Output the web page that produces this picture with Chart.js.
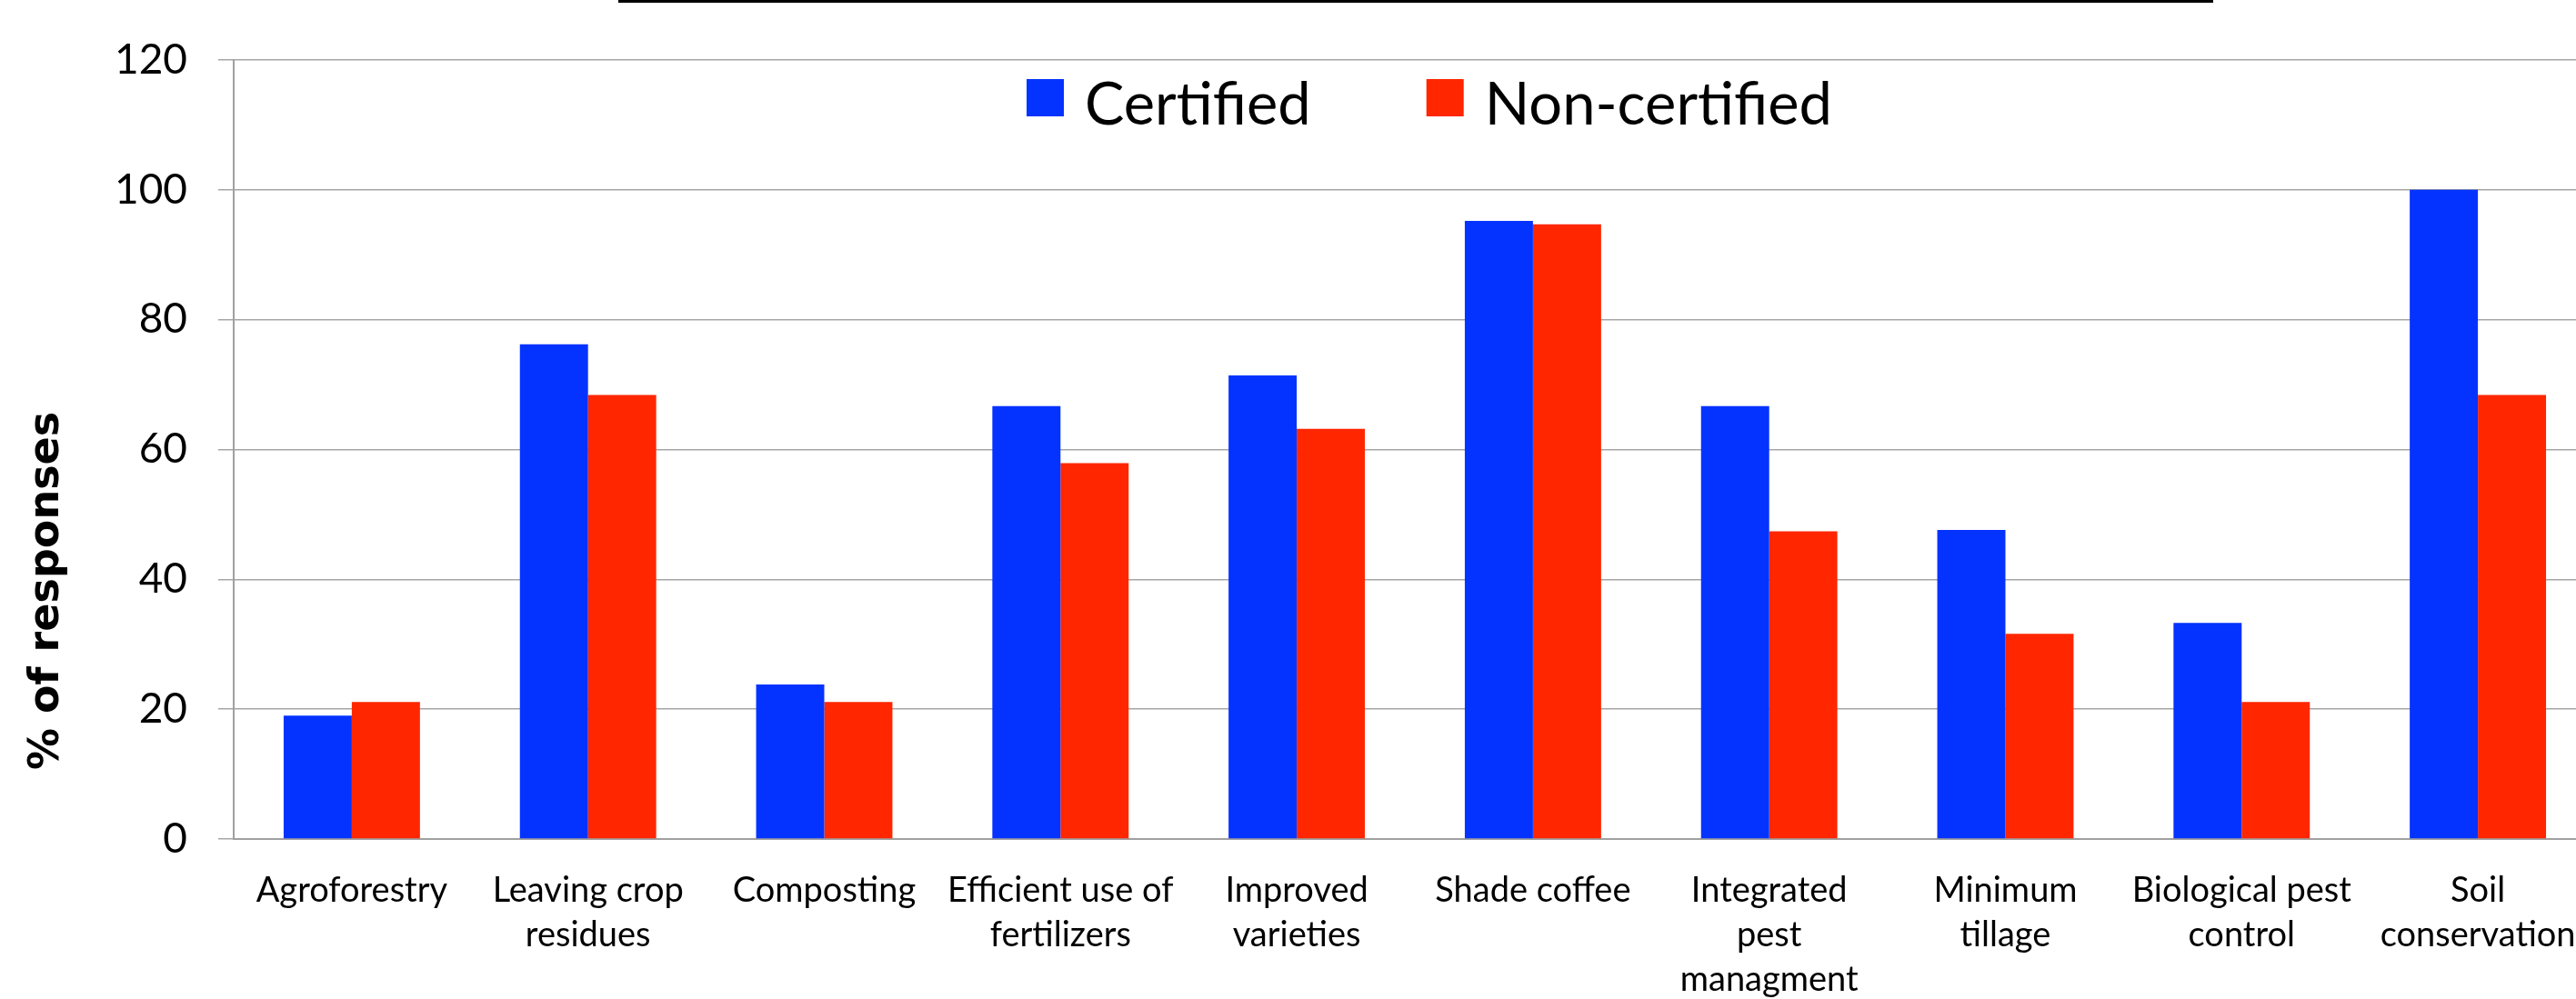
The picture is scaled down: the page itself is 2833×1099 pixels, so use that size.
<!DOCTYPE html>
<html>
<head>
<meta charset="utf-8">
<script src="https://cdn.jsdelivr.net/npm/chart.js@4/dist/chart.umd.min.js"></script>
<style>
  html, body { margin: 0; padding: 0; background: #fff; overflow: hidden; }
  canvas { display: block; }
</style>
</head>
<body>
<canvas id="chart" width="2900" height="1099" style="width:2900px;height:1099px"></canvas>
<script>
// Adoption of practices, % of responses per group
const practices = [
  'Agroforestry',
  ['Leaving crop', 'residues'],
  'Composting',
  ['Efficient use of', 'fertilizers'],
  ['Improved', 'varieties'],
  'Shade coffee',
  ['Integrated', 'pest', 'managment'],
  ['Minimum', 'tillage'],
  ['Biological pest', 'control'],
  ['Soil', 'conservation']
];
const certified    = [19.0, 76.2, 23.8, 66.7, 71.4, 95.2, 66.7, 47.6, 33.3, 100.0];
const nonCertified = [21.1, 68.4, 21.1, 57.9, 63.2, 94.7, 47.4, 31.6, 21.1, 68.4];
const seriesNames  = ['Certified', 'Non-certified'];
const seriesColors = ['#0433FF', '#FF2600'];
const yMin = 0, yMax = 120, yStep = 20;
const yAxisTitle = '% of responses';

// Legend, rotated axis title and the rule along the top edge
const decorations = {
  id: 'decorations',
  afterDraw(chart) {
    const ctx = chart.ctx;

    ctx.save();
    ctx.fillStyle = '#000';
    ctx.fillRect(680, 0, 1754, 3);
    ctx.restore();

    ctx.save();
    ctx.translate(52, 650);
    ctx.rotate(-Math.PI / 2);
    ctx.font = 'bold 46px "DejaVu Sans"';
    ctx.fillStyle = '#000';
    ctx.textAlign = 'center';
    ctx.textBaseline = 'middle';
    ctx.fillText(yAxisTitle, 0, 0);
    ctx.restore();

    ctx.save();
    ctx.font = '65px Lato';
    ctx.textBaseline = 'alphabetic';
    let x = 1129;
    chart.data.datasets.forEach(ds => {
      ctx.fillStyle = ds.backgroundColor;
      ctx.fillRect(x, 87, 41, 41);
      ctx.fillStyle = '#000';
      ctx.fillText(ds.label, x + 64, 137);
      x += 64 + ctx.measureText(ds.label).width + 127;
    });
    ctx.restore();
  }
};

new Chart(document.getElementById('chart'), {
  type: 'bar',
  data: {
    labels: practices,
    datasets: [
      { label: seriesNames[0], data: certified, backgroundColor: seriesColors[0], borderWidth: 0 },
      { label: seriesNames[1], data: nonCertified, backgroundColor: seriesColors[1], borderWidth: 0 }
    ]
  },
  options: {
    responsive: false,
    animation: false,
    layout: { padding: { top: 66, right: 45, left: 0, bottom: 0 } },
    datasets: { bar: { categoryPercentage: 0.577, barPercentage: 1.0 } },
    plugins: { legend: { display: false }, tooltip: { enabled: false } },
    scales: {
      x: {
        offset: true,
        grid: { display: false, drawTicks: false },
        border: { display: true, color: '#a0a0a0', width: 2 },
        ticks: {
          color: '#000',
          font: { family: 'Lato', size: 38, lineHeight: 1.29 },
          padding: 32,
          maxRotation: 0,
          autoSkip: false
        },
        afterFit(scale) { scale.height = 176; }
      },
      y: {
        min: yMin,
        max: yMax,
        ticks: {
          stepSize: yStep,
          color: '#000',
          font: { family: 'Lato', size: 46 },
          padding: 34
        },
        grid: { color: '#a6a6a6', lineWidth: 1.5, tickLength: 17, drawTicks: true },
        border: { color: '#a0a0a0', width: 2 },
        afterFit(scale) { scale.width = 257; }
      }
    }
  },
  plugins: [decorations]
});
</script>
</body>
</html>
